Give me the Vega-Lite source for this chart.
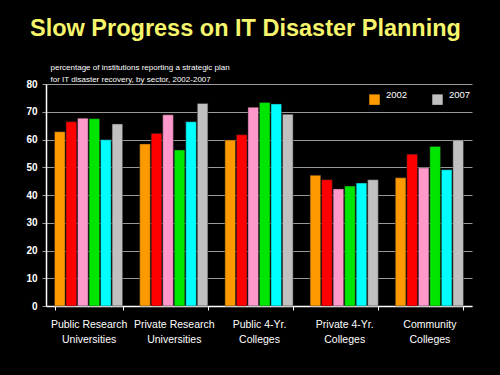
{
  "$schema": "https://vega.github.io/schema/vega-lite/v6.json",
  "width": 426,
  "height": 222,
  "autosize": {"type": "none"},
  "padding": {"left": 46, "top": 84, "right": 28, "bottom": 69},
  "background": "black",
  "title": {
    "text": "Slow Progress on IT Disaster Planning",
    "color": "#F6F56B",
    "font": "Liberation Sans",
    "fontWeight": "bold",
    "fontSize": 23.5,
    "anchor": "start",
    "frame": "group",
    "dx": -16,
    "offset": 4,
    "baseline": "alphabetic"
  },
  "config": {
    "view": {"stroke": null, "fill": "black"},
    "font": "Liberation Sans"
  },
  "data": {
    "values": [
      {"sector": "Public Research|Universities", "year": "2002", "pct": 62.8},
      {"sector": "Public Research|Universities", "year": "2003", "pct": 66.4},
      {"sector": "Public Research|Universities", "year": "2004", "pct": 67.7},
      {"sector": "Public Research|Universities", "year": "2005", "pct": 67.5},
      {"sector": "Public Research|Universities", "year": "2006", "pct": 59.9},
      {"sector": "Public Research|Universities", "year": "2007", "pct": 65.6},
      {"sector": "Private Research|Universities", "year": "2002", "pct": 58.4},
      {"sector": "Private Research|Universities", "year": "2003", "pct": 62.2},
      {"sector": "Private Research|Universities", "year": "2004", "pct": 68.9},
      {"sector": "Private Research|Universities", "year": "2005", "pct": 56.2},
      {"sector": "Private Research|Universities", "year": "2006", "pct": 66.4},
      {"sector": "Private Research|Universities", "year": "2007", "pct": 73.0},
      {"sector": "Public 4-Yr.|Colleges", "year": "2002", "pct": 59.8},
      {"sector": "Public 4-Yr.|Colleges", "year": "2003", "pct": 61.7},
      {"sector": "Public 4-Yr.|Colleges", "year": "2004", "pct": 71.6},
      {"sector": "Public 4-Yr.|Colleges", "year": "2005", "pct": 73.3},
      {"sector": "Public 4-Yr.|Colleges", "year": "2006", "pct": 72.8},
      {"sector": "Public 4-Yr.|Colleges", "year": "2007", "pct": 69.1},
      {"sector": "Private 4-Yr.|Colleges", "year": "2002", "pct": 47.1},
      {"sector": "Private 4-Yr.|Colleges", "year": "2003", "pct": 45.5},
      {"sector": "Private 4-Yr.|Colleges", "year": "2004", "pct": 42.2},
      {"sector": "Private 4-Yr.|Colleges", "year": "2005", "pct": 43.2},
      {"sector": "Private 4-Yr.|Colleges", "year": "2006", "pct": 44.3},
      {"sector": "Private 4-Yr.|Colleges", "year": "2007", "pct": 45.5},
      {"sector": "Community|Colleges", "year": "2002", "pct": 46.2},
      {"sector": "Community|Colleges", "year": "2003", "pct": 54.7},
      {"sector": "Community|Colleges", "year": "2004", "pct": 49.8},
      {"sector": "Community|Colleges", "year": "2005", "pct": 57.5},
      {"sector": "Community|Colleges", "year": "2006", "pct": 49.1},
      {"sector": "Community|Colleges", "year": "2007", "pct": 59.8}
    ]
  },
  "mark": {"type": "bar", "stroke": "#222222", "strokeWidth": 0.5},
  "encoding": {
    "x": {
      "field": "sector",
      "type": "nominal",
      "sort": null,
      "scale": {"paddingInner": 0.2, "paddingOuter": 0.1},
      "axis": {
        "title": null,
        "labelAngle": 0,
        "labelExpr": "split(datum.label, '|')",
        "labelColor": "white",
        "labelFont": "Liberation Sans",
        "labelFontSize": 10.5,
        "labelLineHeight": 15,
        "labelPadding": 9,
        "labelBaseline": "top",
        "domainColor": "white",
        "domainWidth": 1.5,
        "tickBand": "extent",
        "tickColor": "white",
        "tickSize": 4,
        "grid": false
      }
    },
    "xOffset": {"field": "year", "type": "nominal", "scale": {"paddingInner": 0.08}},
    "y": {
      "field": "pct",
      "type": "quantitative",
      "scale": {"domain": [0, 80], "nice": false},
      "axis": {
        "values": [0, 10, 20, 30, 40, 50, 60, 70, 80],
        "title": ["percentage of institutions reporting a strategic plan", " for IT disaster recovery, by sector, 2002-2007"],
        "titleFont": "Liberation Sans",
        "titleAngle": 0,
        "titleAlign": "left",
        "titleBaseline": "alphabetic",
        "titleX": 4,
        "titleY": -15,
        "titleColor": "white",
        "titleFontSize": 8,
        "titleFontWeight": "normal",
        "titleLineHeight": 12,
        "labelColor": "white",
        "labelFont": "Liberation Sans",
        "labelFontSize": 10,
        "labelFontWeight": "bold",
        "labelPadding": 5,
        "domainColor": "white",
        "domainWidth": 1.5,
        "tickColor": "#999999",
        "tickSize": 4,
        "grid": true,
        "gridColor": "#999999",
        "gridWidth": 1
      }
    },
    "color": {
      "field": "year",
      "type": "nominal",
      "scale": {
        "domain": ["2002", "2003", "2004", "2005", "2006", "2007"],
        "range": ["#FF9900", "#FF0000", "#FF99CC", "#00E600", "#00FFFF", "#C0C0C0"]
      },
      "legend": {
        "values": ["2002", "2007"],
        "title": null,
        "orient": "none",
        "legendX": 323,
        "legendY": 10,
        "direction": "horizontal",
        "columns": 2,
        "columnPadding": 24,
        "symbolType": "square",
        "symbolSize": 110,
        "symbolStrokeWidth": 0,
        "symbolOpacity": 1,
        "labelColor": "white",
        "labelFont": "Liberation Sans",
        "labelFontSize": 9.5,
        "labelOffset": 6,
        "labelBaseline": "bottom"
      }
    }
  }
}
